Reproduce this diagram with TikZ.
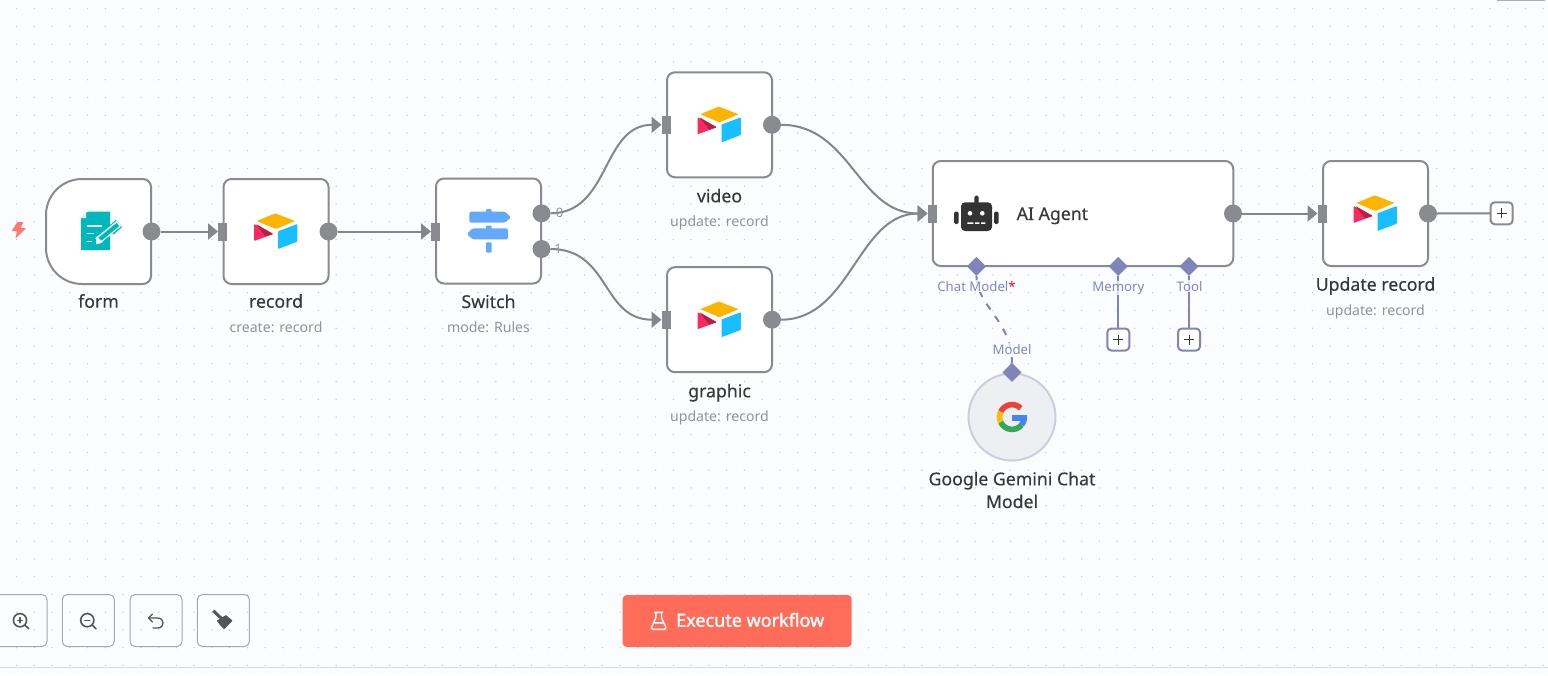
\documentclass[tikz,border=0pt]{standalone}
\usepackage{fontspec}
\setmainfont{Noto Sans}
\newfontfamily\medfont[FakeBold=0.25]{Noto Sans}
\newfontfamily\boldfont[FakeBold=1.5]{Noto Sans}
\usetikzlibrary{arrows.meta,shapes.geometric}
\definecolor{bgc}{HTML}{FBFCFE}
\definecolor{wirec}{HTML}{85868B}
\definecolor{boxc}{HTML}{8A8B90}
\definecolor{subc}{HTML}{8F939C}
\definecolor{txtc}{HTML}{37383D}
\definecolor{purp}{HTML}{7F85B8}
\definecolor{purpt}{HTML}{8288BE}
\definecolor{tealc}{HTML}{00B8BC}
\definecolor{signc}{HTML}{62A9FB}
\definecolor{robotc}{HTML}{333333}
\definecolor{coral}{HTML}{FF6D5A}
\definecolor{btnc}{HTML}{A5A8B0}
\definecolor{iconc}{HTML}{555555}
\definecolor{gred}{HTML}{EA4335}
\definecolor{gyel}{HTML}{FBBC05}
\definecolor{ggrn}{HTML}{34A853}
\definecolor{gblu}{HTML}{4285F4}
\definecolor{atyel}{HTML}{FCB400}
\definecolor{atblu}{HTML}{18BFFF}
\definecolor{atred}{HTML}{F82B60}
\definecolor{atdrk}{HTML}{BA1E45}
\definecolor{dotc}{HTML}{C8CAD2}
\definecolor{linec}{HTML}{D9DBE3}
\definecolor{barc}{HTML}{A8ADC0}
\definecolor{boltc}{HTML}{FF7A6B}
\tikzset{
  flowbox/.style={draw=boxc,line width=2pt,fill=white,rounded corners=8pt,minimum width=105pt,minimum height=105pt,inner sep=0pt,outer sep=0pt},
  outport/.style={circle,fill=boxc,minimum size=18pt,inner sep=0pt,outer sep=0pt},
  inport/.style={rectangle,fill=boxc,minimum width=9pt,minimum height=18pt,inner sep=0pt,outer sep=0pt},
  wire/.style={draw=wirec,line width=2pt},
  wirearrow/.style={wire,-{Triangle[length=10pt,width=16pt]}},
  subwire/.style={draw=purp,line width=2pt},
  dia/.style={diamond,aspect=1,fill=purp,minimum size=19pt,inner sep=0pt,outer sep=0pt},
  plusgrey/.style={draw=boxc,line width=2pt,fill=white,rounded corners=4pt,minimum size=22pt,inner sep=0pt,outer sep=0pt},
  pluspurp/.style={plusgrey,draw=purp},
  title/.style={font=\medfont\fontsize{17.7}{22.7}\selectfont,text=txtc,inner sep=0pt,align=center},
  basetitle/.style={title,anchor=base},
  subtitle/.style={font=\fontsize{14.1}{16}\selectfont,text=subc,inner sep=0pt,anchor=base},
  portlabel/.style={font=\fontsize{13.2}{15}\selectfont,text=purpt,inner sep=1pt,fill=bgc,fill opacity=.75,text opacity=1,anchor=base},
  numlabel/.style={font=\fontsize{13}{15}\selectfont,text=subc,inner sep=0pt,anchor=base},
  toolbtn/.style={draw=btnc,line width=1pt,rounded corners=5pt,minimum width=52pt,minimum height=52pt,inner sep=0pt,outer sep=0pt},
  toolicon/.style={draw=iconc,line width=1.6pt,line cap=round,line join=round},
}
\newcommand{\airtablelogo}[1]{%
\begin{scope}[shift={(#1)},rounded corners=.8pt]
  \fill[atyel] (-19.3,-10.5) -- (-.7,-18.2) -- (19,-10.5) -- (0,-2.5) -- cycle;
  \fill[atblu] (2,-.2) -- (21.3,-7.5) -- (21.3,10.2) -- (2,17.5) -- cycle;
  \fill[atred] (-22,-7.5) -- (-2.7,2.5) -- (-22,9.5) -- cycle;
  \fill[atdrk] (-20,-7.5) -- (-2.7,2.5) -- (-10.5,4.8) -- cycle;
\end{scope}}
\newcommand{\plusmark}[1]{%
\begin{scope}[shift={(#1)}]
  \draw[draw=txtc,line width=1pt] (-5,0) -- (5,0) (0,-5) -- (0,5);
\end{scope}}
\begin{document}
\begin{tikzpicture}[x=1pt,y=-1pt]
\useasboundingbox (0,0) rectangle (1548,675);
\clip (0,0) rectangle (1548,675);
\fill[bgc] (0,0) rectangle (1548,675);
% background dots
\foreach \i in {0,...,87}{\foreach \j in {0,...,37}{
  \fill[dotc] ({16.55+17.75*\i},{8.7+17.75*\j}) circle (.75);
}}
% chrome
\draw[linec,line width=1pt] (0,667.3) -- (1548,667.3);
\fill[barc] (1497.3,0) rectangle (1545,1);
% trigger bolt
\fill[boltc,rounded corners=.7pt] (17.5,222) -- (11.7,231) -- (17,231) -- (15.5,238.5) -- (26.2,228) -- (20.5,228) -- (23.5,222) -- cycle;
% boxes
\node[minimum width=105pt,minimum height=105pt,inner sep=0pt,outer sep=0pt] (form) at (98.5,231.5) {};
\draw[draw=boxc,line width=2pt,fill=white,line join=round]
  (form.north) [rounded corners=8pt] -- (form.north east) -- (form.south east) -- (form.south) [sharp corners]
  -- ([xshift=36pt]form.south west)
  .. controls ([xshift=16.1pt]form.south west) and ([yshift=16.1pt]form.south west) .. ([yshift=36pt]form.south west)
  -- ([yshift=-36pt]form.north west)
  .. controls ([yshift=-16.1pt]form.north west) and ([xshift=16.1pt]form.north west) .. ([xshift=36pt]form.north west)
  -- cycle;
\node[flowbox] (record) at (276,231.5) {};
\node[flowbox] (switch) at (488.5,231) {};
\node[flowbox] (video) at (719.5,124.8) {};
\node[flowbox] (graphic) at (719.5,319.7) {};
\node[flowbox,minimum width=300.5pt] (agent) at (1083,213.5) {};
\node[flowbox] (update) at (1375.5,213.5) {};
\node[circle,draw=linec!85!purp,fill=linec!45!white,line width=2pt,minimum size=87pt,inner sep=0pt,outer sep=0pt] (gemini) at (1012,417) {};
% form icon
\begin{scope}[shift={(form.center)}]
  \fill[tealc,rounded corners=.5pt] (-11,-19.8) -- (11.5,-19.8) -- (11.5,18.6) -- (-17.5,18.6) -- (-17.5,-13) -- cycle;
  \fill[white] (-12.5,-18) -- (-12.5,-13.5) -- (-16.5,-13.5) -- cycle;
  \draw[white,line width=1.6pt] (-11.8,-5.5) -- (3,-5.5) (-11.8,1.8) -- (-5,1.8) (-11.8,10) -- (-7,10);
  \draw[tealc,line width=9.5pt] (12,-.5) -- (20.5,-8);
  \draw[white,line width=7pt] (-1,9.5) -- (20.5,-8);
  \draw[tealc,line width=4.2pt] (1,8) -- (19.5,-7);
  \fill[white] (-2.5,13) -- (-2,5) -- (4.5,10.5) -- cycle;
\end{scope}
% airtable icons
\airtablelogo{record.center}
\airtablelogo{video.center}
\airtablelogo{graphic.center}
\airtablelogo{update.center}
% switch icon
\begin{scope}[shift={(switch.center)}]
  \fill[signc,rounded corners=1pt] (-2.5,-22) rectangle (3.2,-17);
  \fill[signc,rounded corners=1.5pt] (-19.2,-19.3) -- (16.5,-19.3) -- (22.5,-13.7) -- (16.5,-8.3) -- (-19.2,-8.3) -- cycle;
  \fill[signc,rounded corners=.5pt] (-2.5,-5.3) rectangle (3.2,-2);
  \fill[signc,rounded corners=1.5pt] (-15.8,-2.7) -- (19.5,-2.7) -- (19.5,8.3) -- (-15.8,8.3) -- (-21.8,3) -- cycle;
  \fill[signc,rounded corners=1pt] (-2.5,11.3) rectangle (3.2,21.7);
\end{scope}
% robot icon
\fill[robotc,rounded corners=4pt] (961,202.3) rectangle (992,231);
\fill[robotc,rounded corners=1.5pt] (974.3,195.7) rectangle (978.7,204);
\fill[robotc,rounded corners=1.5pt] (954,211.7) rectangle (958.7,224);
\fill[robotc,rounded corners=1.5pt] (994,211.7) rectangle (998.7,224);
\fill[white] (970,213.3) circle (2.3) (982.3,213.3) circle (2.3);
\fill[white] (967.3,222.3) rectangle (973.3,223.9) (975,222.3) rectangle (979.3,223.9) (981,222.3) rectangle (985.3,223.9);
% google icon (arc angles are canvas angles)
\begin{scope}[shift={(gemini.center)}]
  \draw[gred,line width=5.6pt] ({12.4*cos(45)},{-12.4*sin(45)}) arc[start angle=45,end angle=155,radius=12.4pt];
  \draw[gyel,line width=5.6pt] ({12.4*cos(155)},{-12.4*sin(155)}) arc[start angle=155,end angle=205,radius=12.4pt];
  \draw[ggrn,line width=5.6pt] ({12.4*cos(205)},{-12.4*sin(205)}) arc[start angle=205,end angle=320,radius=12.4pt];
  \draw[gblu,line width=5.6pt] ({12.4*cos(320)},{-12.4*sin(320)}) arc[start angle=320,end angle=355,radius=12.4pt];
  \fill[gblu] (-.3,-2.5) rectangle (15,4);
\end{scope}
% ports
\node[outport] (formOut) at (151.5,231.5) {};
\node[inport] (recordIn) at (222.5,231.5) {};
\node[outport] (recordOut) at (328.5,231.5) {};
\node[inport] (switchIn) at (435.5,231.5) {};
\node[outport] (switchOutA) at (541.5,213.3) {};
\node[outport] (switchOutB) at (541.5,249) {};
\node[inport] (videoIn) at (666,124.8) {};
\node[outport] (videoOut) at (772,124.8) {};
\node[inport] (graphicIn) at (666,319.7) {};
\node[outport] (graphicOut) at (772,319.7) {};
\node[inport] (agentIn) at (932,213.5) {};
\node[outport] (agentOut) at (1233,213.5) {};
\node[inport] (updateIn) at (1322,213.5) {};
\node[outport] (updateOut) at (1428,213.5) {};
\node[plusgrey] (updatePlus) at (1501.7,213.3) {};
\plusmark{updatePlus.center}
\node[dia] (chatDia) at (976.4,266.4) {};
\node[dia] (memDia) at (1118.3,266.4) {};
\node[dia] (toolDia) at (1189,266.4) {};
\node[dia] (modelDia) at (1012,372.3) {};
\node[pluspurp] (memPlus) at (1118.3,339.5) {};
\node[pluspurp] (toolPlus) at (1189,339.5) {};
\plusmark{memPlus.center}
\plusmark{toolPlus.center}
% connectors
\draw[wirearrow] (formOut.east) -- (recordIn.west);
\draw[wirearrow] (recordOut.east) -- (switchIn.west);
\draw[wirearrow] (switchOutA.east) .. controls +(60,0) and +(-60,0) .. (videoIn.west);
\draw[wirearrow] (switchOutB.east) .. controls +(60,0) and +(-60,0) .. (graphicIn.west);
\draw[wirearrow] (videoOut.east) .. controls +(70,0) and +(-70,0) .. (agentIn.west);
\draw[wirearrow] (graphicOut.east) .. controls +(70,0) and +(-70,0) .. (agentIn.west);
\draw[wirearrow] (agentOut.east) -- (updateIn.west);
\draw[wire] (updateOut.east) -- (updatePlus.west);
\draw[subwire] (memDia.south) -- (memPlus.north);
\draw[subwire] (toolDia.south) -- (toolPlus.north);
\draw[subwire,dash pattern=on 7pt off 8pt] (chatDia.south) .. controls +(0,30) and +(0,-42) .. (modelDia.north);
% labels
\node[basetitle] (formT) at (98.5,307.7) {form};
\node[basetitle] (recordT) at (276,307.7) {record};
\node[subtitle] (recordS) at (276,332) {create: record};
\node[basetitle] (switchT) at (488.5,308) {Switch};
\node[subtitle] (switchS) at (488.5,332) {mode: Rules};
\node[basetitle] (videoT) at (719.5,202.3) {video};
\node[subtitle] (videoS) at (719.5,226) {update: record};
\node[basetitle] (graphicT) at (719.5,397.3) {graphic};
\node[subtitle] (graphicS) at (719.5,421) {update: record};
\node[title,anchor=base west] (agentT) at (1016.5,220) {AI Agent};
\node[basetitle] (updateT) at (1375.5,290.7) {Update record};
\node[subtitle] (updateS) at (1375.5,315) {update: record};
\node[title] (geminiT) at (1012,490) {Google Gemini Chat\\Model};
\node[portlabel] (chatL) at (976.5,291) {Chat Model\textcolor{red}{*}};
\node[portlabel] (memL) at (1118.3,291) {Memory};
\node[portlabel] (toolL) at (1189.5,291) {Tool};
\node[portlabel] (modelL) at (1012,354.3) {Model};
\node[numlabel] (lblA) at (559.5,217.7) {0};
\node[numlabel] (lblB) at (558,253.3) {1};
% toolbar
\node[toolbtn] (zoomIn) at (21,620.5) {};
\node[toolbtn] (zoomOut) at (88.3,620.5) {};
\node[toolbtn] (undo) at (156,620.5) {};
\node[toolbtn] (clean) at (223.3,620.5) {};
\begin{scope}[shift={(zoomIn.center)}]
  \draw[toolicon] (-1,-.3) circle (6.6) (3.8,4.5) -- (7.7,8.2);
  \draw[toolicon,line width=1.3pt] (-3.6,-.3) -- (1.6,-.3) (-1,-2.9) -- (-1,2.3);
\end{scope}
\begin{scope}[shift={(zoomOut.center)}]
  \draw[toolicon] (-1,-.3) circle (6.6) (3.8,4.5) -- (7.7,8.2);
  \draw[toolicon,line width=1.3pt] (-3.6,-.3) -- (1.6,-.3);
\end{scope}
\begin{scope}[shift={(undo.center)}]
  \draw[toolicon,line width=1.3pt] (-3.5,-6.5) -- (-7.5,-2.5) -- (-3.5,1.5);
  \draw[toolicon,line width=1.3pt] (-7.5,-2.5) -- (1.5,-2.5) .. controls (9,-2.5) and (9,7.5) .. (1.5,7.5) -- (-3,7.5);
\end{scope}
\begin{scope}[shift={(clean.center)}]
  \draw[iconc,line width=3pt] (-10,-9.8) -- (-1,-1.2);
  \fill[iconc,rounded corners=.6pt] (-6.6,.2) -- (2.7,-5.5) -- (9.3,.2) -- (.7,8.8) -- (-3.3,4.5) -- cycle;
\end{scope}
% execute button
\node[fill=coral,rounded corners=4pt,minimum width=229pt,minimum height=52pt,inner sep=0pt,outer sep=0pt] (execute) at (737.2,621) {};
\node[font=\boldfont\fontsize{18}{20}\selectfont,text=white,inner sep=0pt,anchor=base west] (executeT) at (676,626.7) {Execute workflow};
\begin{scope}[shift={(658.7,620.8)}]
  \draw[white,line width=1.4pt,line join=round,line cap=round] (-4,-8.5) -- (4,-8.5) (-2.8,-8.5) -- (-2.8,-3) -- (-7,6) .. controls (-7.6,7.6) and (-7,8.5) .. (-5.5,8.5) -- (5.5,8.5) .. controls (7,8.5) and (7.6,7.6) .. (7,6) -- (2.8,-3) -- (2.8,-8.5) (-4.8,2) -- (4.8,2);
\end{scope}
\end{tikzpicture}
\end{document}
